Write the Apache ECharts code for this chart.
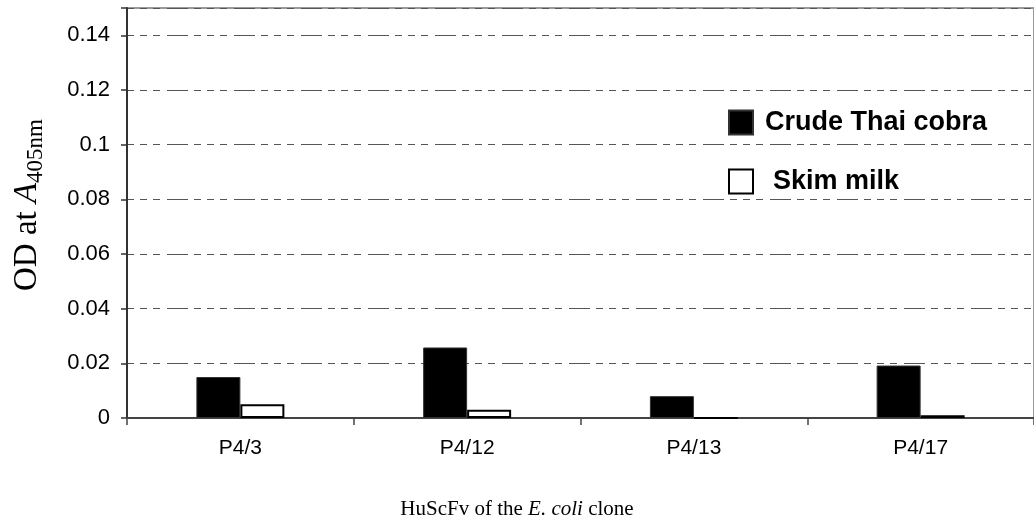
<!DOCTYPE html>
<html>
<head>
<meta charset="utf-8">
<script src="https://cdn.jsdelivr.net/npm/echarts@6/dist/echarts.min.js"></script>
<style>
html,body{margin:0;padding:0;background:#fff;}
#chart{width:1034px;height:530px;}
</style>
</head>
<body>
<div id="chart"></div>
<script>
const categories = ['P4/3', 'P4/12', 'P4/13', 'P4/17'];
const crudeThaiCobra = [0.015, 0.0258, 0.008, 0.0192];
const skimMilk = [0.005, 0.003, 0, 0.001];
const seriesNames = ['Crude Thai cobra', 'Skim milk'];
const yTicks = [0, 0.02, 0.04, 0.06, 0.08, 0.1, 0.12, 0.14];

const SANS = '"Liberation Sans", Arial, Helvetica, sans-serif';
const SERIF = '"Liberation Serif", "Times New Roman", Times, serif';
const dashPattern = [7, 6, 7, 6, 7, 7, 21, 6];

const chart = echarts.init(document.getElementById('chart'), null, {renderer: 'canvas'});
chart.setOption({
  animation: false,
  backgroundColor: '#ffffff',
  title: {
    left: 'center',
    top: 499,
    padding: 0,
    text: '{n|HuScFv of the }{i|E. coli}{n| clone}',
    textStyle: {
      fontWeight: 'normal',
      rich: {
        n: {fontFamily: SERIF, fontSize: 21, fontWeight: 'normal', color: '#000'},
        i: {fontFamily: SERIF, fontSize: 21, fontWeight: 'normal', fontStyle: 'italic', color: '#000'}
      }
    }
  },
  legend: {
    orient: 'vertical',
    left: 723,
    top: 104,
    itemWidth: 24,
    itemHeight: 24,
    itemGap: 32,
    icon: 'rect',
    textStyle: {fontFamily: SANS, fontSize: 27, fontWeight: 'bold', color: '#000'},
    data: [
      {name: seriesNames[0], textStyle: {padding: [0, 0, 0, 7]}},
      {name: seriesNames[1], textStyle: {padding: [0, 0, 0, 15]}}
    ]
  },
  grid: {
    left: 127,
    right: -7,
    top: 8,
    bottom: 112,
    show: true,
    borderColor: '#999',
    borderWidth: 2,
    containLabel: false
  },
  xAxis: {
    type: 'category',
    data: categories,
    axisLine: {lineStyle: {color: '#444', width: 2}},
    axisTick: {show: true, length: 7, lineStyle: {color: '#444', width: 1.5}},
    axisLabel: {fontFamily: SANS, fontSize: 21, color: '#000', margin: 20}
  },
  yAxis: {
    type: 'value',
    min: 0,
    max: 0.15,
    interval: 0.02,
    name: '{n|OD at }{i|A}{s|405nm}',
    nameLocation: 'middle',
    nameRotate: 90,
    nameGap: 80,
    nameTextStyle: {
      padding: [0, 0, 0, 16],
      rich: {
        n: {fontFamily: SERIF, fontSize: 33, color: '#000', lineHeight: 40},
        i: {fontFamily: SERIF, fontSize: 33, fontStyle: 'italic', color: '#000', lineHeight: 40},
        s: {fontFamily: SERIF, fontSize: 23, color: '#000', lineHeight: 24, verticalAlign: 'bottom'}
      }
    },
    axisLine: {show: true, lineStyle: {color: '#333', width: 2}},
    axisTick: {show: true, length: 6, lineStyle: {color: '#333', width: 1.5}},
    axisLabel: {
      fontFamily: SANS, fontSize: 22, color: '#000', margin: 17,
      formatter: function (v) {
        for (let i = 0; i < yTicks.length; i++) {
          if (Math.abs(yTicks[i] - v) < 1e-9) return String(yTicks[i]);
        }
        return '';
      }
    },
    splitLine: {show: true, lineStyle: {color: '#555', width: 1, type: dashPattern}}
  },
  series: [
    {
      name: seriesNames[0],
      type: 'bar',
      data: crudeThaiCobra,
      barWidth: 44,
      barGap: '0%',
      itemStyle: {color: '#000', borderColor: '#333', borderWidth: 1}
    },
    {
      name: seriesNames[1],
      type: 'bar',
      data: skimMilk,
      barWidth: 44,
      barGap: '0%',
      itemStyle: {color: '#fff', borderColor: '#000', borderWidth: 2}
    }
  ]
});
</script>
</body>
</html>
